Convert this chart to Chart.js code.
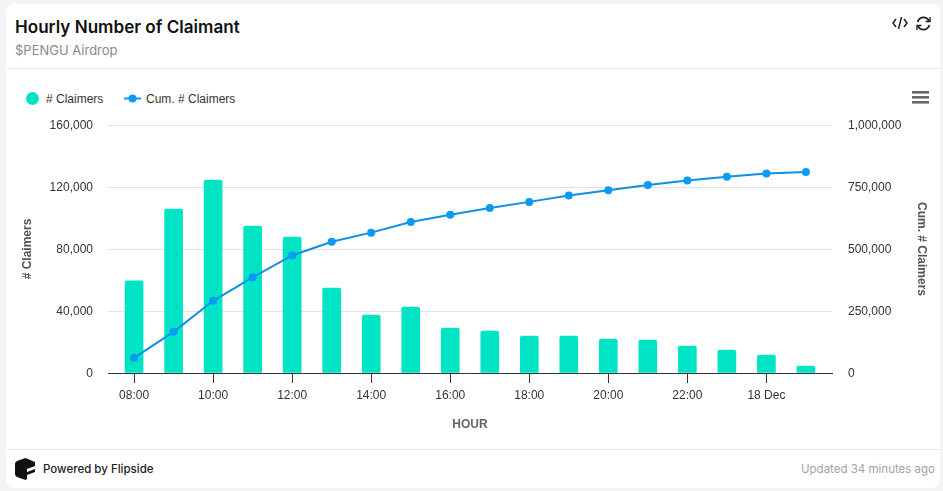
<!DOCTYPE html>
<html>
<head>
<meta charset="utf-8">
<title>Hourly Number of Claimant</title>
<script src="https://cdn.jsdelivr.net/npm/chart.js@4"></script>
<style>
  html, body { margin: 0; padding: 0; width: 943px; height: 491px; overflow: hidden; background: #f4f4f4; }
  .card { position: absolute; left: 6px; top: 4px; width: 934px; height: 484px; background: #fff; border-radius: 8px; }
  .abs { position: absolute; white-space: nowrap; }
  #title { left: 15px; top: 16px; font: 600 17.1px Inter, sans-serif; color: #111; }
  #subtitle { left: 15px; top: 42px; font: 13px Inter, sans-serif; color: #8a8a8a; }
  .rule { position: absolute; left: 7px; width: 933px; height: 1px; background: #e8e8e8; }
  .legend { font: 12px "Liberation Sans", Arial, sans-serif; color: #333; }
  #powered { left: 43px; top: 462px; font: 500 11.5px Inter, sans-serif; color: #222; }
  #updated { right: 8px; top: 462px; font: 11.5px Inter, sans-serif; color: #a3a3a3; }
  #wrap { position: absolute; left: 0; top: 0; width: 943px; height: 491px; }
</style>
</head>
<body>
<div class="card"></div>
<div class="abs" id="title">Hourly Number of Claimant</div>
<div class="abs" id="subtitle">$PENGU Airdrop</div>
<div class="rule" style="top:68px"></div>
<div class="rule" style="top:449px"></div>

<svg class="abs" style="left:891px;top:15px" width="18" height="16" viewBox="0 0 18 16" fill="none" stroke="#222" stroke-width="1.5">
  <path d="M5 4 L2 8 L5 12 M13 4 L16 8 L13 12 M10.5 2 L7.5 14"/>
</svg>
<svg class="abs" style="left:915px;top:15px" width="17" height="17" viewBox="0 0 17 17" fill="none" stroke="#222" stroke-width="1.7">
  <path d="M14 6 A6 6 0 0 0 3.5 5 L2.5 7 M3 11 A6 6 0 0 0 13.5 12 L14.5 10"/>
  <path d="M15 2 V6.5 H10.5 M2 15 V10.5 H6.5" stroke-width="1.4"/>
</svg>

<div class="abs" style="left:26px;top:92px;width:13px;height:13px;border-radius:50%;background:#00e4c6"></div>
<div class="abs legend" style="left:46px;top:92px"># Claimers</div>
<svg class="abs" style="left:124px;top:92px" width="17" height="13">
  <line x1="0" y1="6.5" x2="17" y2="6.5" stroke="#0d9bf0" stroke-width="2"/>
  <circle cx="8.5" cy="6.5" r="4" fill="#0d9bf0"/>
</svg>
<div class="abs legend" style="left:146px;top:92px">Cum. # Claimers</div>

<svg class="abs" style="left:912px;top:91px" width="17" height="13" fill="#666">
  <rect y="0" width="17" height="2.6"/><rect y="5" width="17" height="2.6"/><rect y="10" width="17" height="2.6"/>
</svg>

<svg class="abs" style="left:15px;top:458px" width="21" height="22" viewBox="0 0 21 22">
  <path d="M10.5 0 L20 4 V8 L12 11 V14 L20 11 V14 L12 17 V21 L10.5 22 L2 19 Q0 18 0 16 V6 Q0 4 2 3 Z" fill="#111"/>
</svg>
<div class="abs" id="powered">Powered by Flipside</div>
<div class="abs" id="updated">Updated 34 minutes ago</div>

<div id="wrap"><canvas id="claimersChart"></canvas></div>

<script>
const hours = ["08:00", "09:00", "10:00", "11:00", "12:00", "13:00", "14:00", "15:00", "16:00",
  "17:00", "18:00", "19:00", "20:00", "21:00", "22:00", "23:00", "18 Dec", "01:00"];
const claimers = [59400, 105800, 124500, 94800, 87700, 54800, 37400, 42600, 29000,
  27100, 23900, 23900, 21900, 21300, 17400, 14800, 11600, 4500];
const cumClaimers = [61000, 166000, 291000, 386000, 474000, 529000, 566000, 609000, 638000,
  665000, 690000, 716000, 737000, 758000, 776000, 791000, 804000, 810000];
const leftTicks = [0, 40000, 80000, 120000, 160000];
const rightTicks = [0, 250000, 500000, 750000, 1000000];

Chart.defaults.font.family = '"Liberation Sans", Arial, sans-serif';
Chart.defaults.font.size = 12;
Chart.defaults.color = "#333";

function toPoints(values) {
  return values.map((v, i) => ({ x: i, y: v }));
}

new Chart(document.getElementById("claimersChart"), {
  type: "bar",
  data: {
    datasets: [
      {
        type: "line",
        label: "Cum. # Claimers",
        data: toPoints(cumClaimers),
        yAxisID: "y1",
        borderColor: "#0f8fe6",
        backgroundColor: "#0a9bf5",
        borderWidth: 2,
        pointRadius: 4,
        pointBorderWidth: 0,
        tension: 0,
        order: 0,
      },
      {
        label: "# Claimers",
        data: toPoints(claimers),
        yAxisID: "y",
        backgroundColor: "#00e4c6",
        borderRadius: { topLeft: 2, topRight: 2 },
        borderSkipped: "bottom",
        barThickness: 18,
        order: 1,
      },
    ],
  },
  options: {
    responsive: true,
    maintainAspectRatio: false,
    animation: false,
    layout: { padding: { top: 125, left: 20, right: 14, bottom: 59 } },
    plugins: { legend: { display: false }, tooltip: { enabled: false } },
    scales: {
      x: {
        type: "linear",
        offset: false,
        min: -0.66,
        max: 17.66,
        afterBuildTicks: (axis) => {
          axis.ticks = hours.map((h, i) => ({ value: i })).filter((t) => t.value % 2 === 0);
        },
        afterFit: (axis) => { axis.height = 59; },
        ticks: {
          callback: (value) => hours[value],
          maxRotation: 0,
          autoSkip: false,
          padding: 5,
          color: "#333",
        },
        grid: { offset: false, drawOnChartArea: false, drawTicks: true, tickLength: 10, tickColor: "#333" },
        border: { color: "#333", width: 1 },
        title: { display: true, text: "HOUR", color: "#666", font: { weight: "bold", size: 12 }, padding: 0 },
      },
      y: {
        position: "left",
        min: 0,
        max: 160000,
        afterBuildTicks: (axis) => { axis.ticks = leftTicks.map((v) => ({ value: v })); },
        afterFit: (axis) => { axis.width = 88; },
        ticks: { padding: 15, labelOffset: 1, callback: (v) => v.toLocaleString("en-US") },
        grid: { color: "#e2e2e2", drawTicks: false },
        border: { display: false },
        title: { display: true, text: "# Claimers", color: "#555", font: { weight: "bold", size: 12 }, padding: 0 },
      },
      y1: {
        position: "right",
        min: 0,
        max: 1000000,
        afterBuildTicks: (axis) => { axis.ticks = rightTicks.map((v) => ({ value: v })); },
        afterFit: (axis) => { axis.width = 97; },
        ticks: { padding: 16, labelOffset: 1, callback: (v) => v.toLocaleString("en-US") },
        grid: { drawOnChartArea: false, drawTicks: false },
        border: { display: false },
        title: { display: true, text: "Cum. # Claimers", color: "#555", font: { weight: "bold", size: 12 }, padding: 0 },
      },
    },
  },
});
</script>
</body>
</html>
